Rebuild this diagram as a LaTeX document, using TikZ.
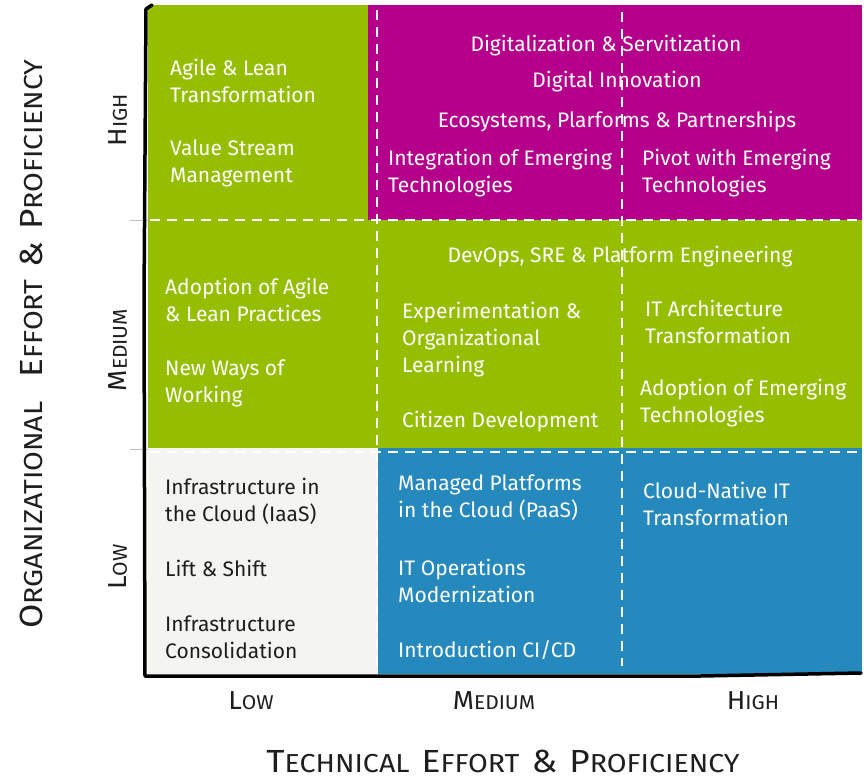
\documentclass[tikz,border=0pt]{standalone}
\usepackage{fontspec}
\setmainfont{Fira Sans}
\definecolor{qgreen}{HTML}{96BE00}
\definecolor{qmagenta}{HTML}{B5008B}
\definecolor{qblue}{HTML}{2589BE}
\definecolor{qgray}{HTML}{F4F4F1}
\definecolor{qdark}{HTML}{1E1E1E}
\newcommand\tbig{\fontsize{32}{32}\selectfont}
\newcommand\tsml{\fontsize{26}{26}\selectfont}
\newcommand\lbig{\fontsize{26}{26}\selectfont}
\newcommand\lsml{\fontsize{20}{20}\selectfont}
\newcommand\wsp{\hspace{11pt}}
\begin{document}
\begin{tikzpicture}[x=1pt,y=-1pt,
  txt/.style={text=white, font=\fontsize{21}{27}\selectfont, align=left, anchor=west, inner sep=0pt},
  dtxt/.style={txt, text=qdark},
  ctxt/.style={txt, anchor=center, align=center},
  sepline/.style={draw=white, line width=1.6pt, dash pattern=on 10pt off 7pt},
  tickline/.style={draw=black!25, line width=1pt},
  axisline/.style={draw=black, line width=3.5pt, line cap=round, line join=round},
  lvl/.style={inner sep=0pt, text=qdark},
  ttl/.style={inner sep=0pt, text=qdark}]
\useasboundingbox (0,0) rectangle (864,779);
\fill[white] (0,0) rectangle (864,779);
% cells
\fill[qgreen] (148,5) rectangle (370,221);
\fill[qmagenta] (368,5) rectangle (862,221);
\fill[qgreen] (148,220) rectangle (862,449);
\fill[qgray] (148,448) rectangle (379,674);
\fill[qblue] (378,448) rectangle (862,674);
% dashed separators
\draw[sepline] (377,10) -- (377,668);
\draw[sepline] (622,12) -- (622,666);
\draw[sepline] (150,220) -- (860,220);
\draw[sepline] (150,452) -- (860,452);
\draw[tickline] (130,220) -- (148,220);
\draw[tickline] (130,449) -- (148,449);
% axes
\draw[axisline] (152,5) -- (146,9) -- (144,300) -- (145,676) -- (700,676) -- (861,673);
% row 1
\node[txt] (agile) at (170,81) {Agile \& Lean\\Transformation};
\node[txt] (vsm) at (170,163) {Value Stream\\Management};
\node[ctxt] (digit) at (606,46) {Digitalization \& Servitization};
\node[ctxt] (dinno) at (617,82) {Digital Innovation};
\node[ctxt] (ecosys) at (617,122) {Ecosystems, Plarforms \& Partnerships};
\node[txt] (integ) at (388,173) {Integration of Emerging\\Technologies};
\node[txt] (pivot) at (642,173) {Pivot with Emerging\\Technologies};
% row 2
\node[ctxt] (devops) at (620,257) {DevOps, SRE \& Platform Engineering};
\node[txt] (adagile) at (165,300) {Adoption of Agile\\\& Lean Practices};
\node[txt] (nwow) at (165,383) {New Ways of\\Working};
\node[txt] (exper) at (402,340) {Experimentation \&\\Organizational\\Learning};
\node[txt] (citizen) at (402,422) {Citizen Development};
\node[txt] (itarch) at (645,322) {IT Architecture\\Transformation};
\node[txt] (ademerg) at (640,403) {Adoption of Emerging\\Technologies};
% row 3
\node[dtxt] (iaas) at (165,501) {Infrastructure in\\the Cloud (IaaS)};
\node[dtxt] (lift) at (165,568) {Lift \& Shift};
\node[dtxt] (consol) at (165,637) {Infrastructure\\Consolidation};
\node[txt] (paas) at (398,498) {Managed Platforms\\in the Cloud (PaaS)};
\node[txt] (itops) at (398,581) {IT Operations\\Modernization};
\node[txt] (cicd) at (398,650) {Introduction CI/CD};
\node[txt] (cnative) at (643,504) {Cloud-Native IT\\Transformation};
% level labels (vertical axis)
\node[lvl, rotate=90] (yhigh) at (118,120) {\scalebox{1.05}[1]{{\lbig H}{\lsml IGH}}};
\node[lvl, rotate=90] (ymed) at (118,350) {\scalebox{1.05}[1]{{\lbig M}{\lsml EDIUM}}};
\node[lvl, rotate=90] (ylow) at (118,567) {\scalebox{1.05}[1]{{\lbig L}{\lsml OW}}};
% level labels (horizontal axis)
\node[lvl] (xlow) at (251,701) {\scalebox{1.05}[1]{{\lbig L}{\lsml OW}}};
\node[lvl] (xmed) at (494,701) {\scalebox{1.05}[1]{{\lbig M}{\lsml EDIUM}}};
\node[lvl] (xhigh) at (753,701) {\scalebox{1.05}[1]{{\lbig H}{\lsml IGH}}};
% axis titles
\node[ttl, rotate=90] (ytitle) at (31,344) {\scalebox{1.1}[1]{{\tbig O}{\tsml RGANIZATIONAL}\wsp\wsp{\tbig E}{\tsml FFORT}\wsp{\tbig\&}\wsp{\tbig P}{\tsml ROFICIENCY}}};
\node[ttl] (xtitle) at (503,761) {\scalebox{1.1}[1]{{\tbig T}{\tsml ECHNICAL}\wsp{\tbig E}{\tsml FFORT}\wsp{\tbig\&}\wsp{\tbig P}{\tsml ROFICIENCY}}};
\end{tikzpicture}
\end{document}
